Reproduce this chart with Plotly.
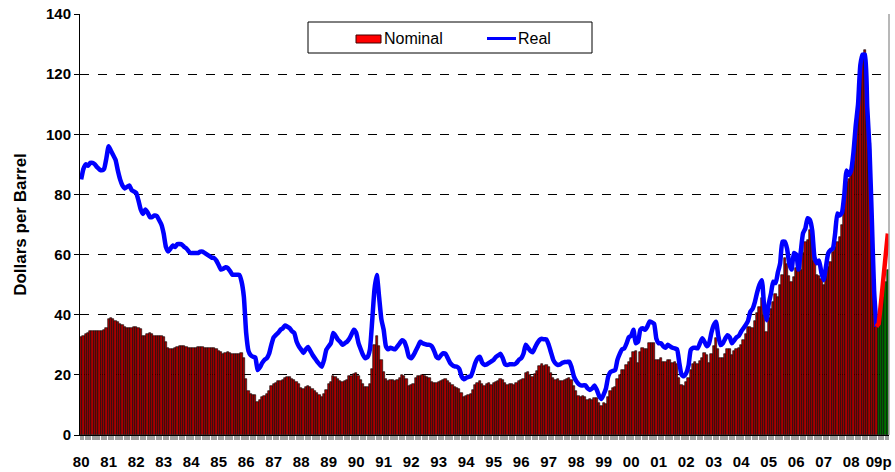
import plotly.graph_objects as go

# ---------------- data (monthly, $/barrel) ----------------
nominal_1980s = [
    32.5, 33, 33.5, 34, 34.5, 34.5, 34.5, 34.5, 34.5, 34.5, 35, 35.5,
    38.5, 39, 38.5, 38, 37.5, 37, 36.5, 36, 35.5, 35.5, 35.5, 36,
    35.8, 35.5, 35.2, 33, 33, 33.5, 34, 33.5, 33, 33, 33, 33,
    32.5, 31, 29, 28.5, 28.5, 29, 29.2, 29.5, 29.5, 29.5, 29.3, 29,
    29, 29, 29, 29.2, 29.2, 29.2, 29, 28.8, 28.8, 28.8, 28.8, 28.5,
    28, 27.5, 27, 27.3, 27.5, 27.3, 27, 26.8, 26.8, 27, 27.3, 25.5,
    18.5, 14.5, 13.5, 13.3, 13.2, 11.1, 11.5, 12.5, 13, 13.5, 14.5, 16.2,
    17, 17.3, 17.8, 18, 18.3, 19, 19.4, 19.2, 18.5, 18.3, 17.5, 16.8,
    15.5, 15.2, 15.8, 16.2, 16, 15.3, 14.5, 14, 13.2, 12.7, 13.5, 15,
    16.8, 17.5, 19.7, 19.3, 18.5, 18, 17.7, 17.8, 18.3, 19.5, 19.5, 20.4,
]
nominal_1990s = [
    20.5, 19.5, 18.3, 16.8, 15.8, 15.8, 17, 22, 30, 33, 29.5, 25,
    21, 18.5, 17.8, 18.3, 18.3, 18, 18.3, 18.9, 19.8, 19.5, 18.5, 16.3,
    16.5, 16.8, 18.9, 19.5, 19.7, 19.8, 19.6, 19.2, 18.9, 17.5, 17.2, 17.2,
    17.5, 18, 18.3, 18.5, 17.8, 17.2, 16.5, 15.8, 15.5, 15.3, 14, 12.7,
    13, 13.3, 13.5, 14.8, 16.5, 17.3, 17.8, 17, 16.3, 16.8, 17.2, 16.5,
    17.2, 17.6, 17.8, 18.5, 18.3, 17.3, 16.5, 16.8, 16.8, 16.5, 17.2, 18,
    18.3, 18.5, 20.5, 21.1, 19.8, 19.3, 20.3, 21.2, 23, 23.5, 23, 23.2,
    22.5, 20.5, 18.8, 18.2, 18.5, 17.8, 18, 18.3, 18.5, 19, 18.2, 16.3,
    14.5, 13, 12.8, 13, 12.8, 11.8, 11.9, 11.5, 12.3, 12.3, 10.8, 9.5,
    10.5, 10.3, 12.5, 14.7, 15.5, 16, 18.5, 19.8, 21.5, 21.5, 23.3, 24.3,
]
nominal_2000s = [
    25.5, 27.7, 27.8, 24, 27.5, 29, 28.5, 28.5, 30.5, 30.5, 30.5, 25,
    25, 25.5, 24.3, 24.3, 25, 25, 24, 24.3, 23.5, 18.8, 16.5, 16.3,
    17.5, 19, 21.6, 23.5, 24.4, 23.5, 24.5, 25.5, 27.2, 26.5, 24, 27,
    29.5, 32.2, 28.5, 25.5, 25.5, 27, 28.5, 28.5, 26.5, 28, 28.5, 29,
    30, 31.5, 33.5, 35.9, 36, 35.5, 38, 40.5, 42.5, 45.4, 40, 34.4,
    39, 42, 44.2, 47, 46, 50, 53.2, 58.8, 57, 53, 51, 52.5,
    55.4, 54.5, 55, 60.4, 64.3, 65, 68.2, 67, 58, 53.2, 53, 52,
    49.9, 53, 56, 57.6, 60.9, 62.5, 64.3, 66, 70, 75, 84, 85,
    87, 91, 100, 108, 120, 126, 128, 112, 97, 72, 50, 37,
]
nominal_2009p = [37, 41, 46, 51, 55]

real_1980s = [
    85, 88.5, 90, 89.5, 90.5, 90.5, 90, 89, 88.3, 88, 88.5, 92,
    96, 94.5, 93, 91.5, 88, 85, 83, 82, 82.5, 83, 81.5, 81,
    80.5, 78, 75, 73.5, 75, 74, 72.5, 72.5, 73, 72.8, 71.5, 70,
    67, 62.5, 61, 62, 63, 62.5, 63.5, 63.5, 63.3, 62.5, 62, 61,
    60.5, 60.5, 60.5, 60.5, 61, 61, 60.5, 60, 59.5, 59, 58.8, 58,
    56.5, 55, 55.3, 55.8, 55.5, 54.5, 53.3, 53.3, 53.3, 53.3, 51, 46,
    34, 28, 26.5, 26, 25.8, 21.6, 22.5, 24, 25, 25.5, 27, 30,
    32.5, 33.3, 34, 35, 35.5, 36.4, 36, 35.5, 34.5, 33.9, 31.1, 29.5,
    28.4, 27.3, 28.5, 29.3, 28, 26.6, 25.5, 24.4, 23.5, 22.7, 25, 28.4,
    29.5, 30.6, 33.9, 33, 31.7, 31, 30, 30.5, 31, 32, 33.5, 35,
]
real_1990s = [
    34, 30.6, 28.5, 26.6, 25.5, 26, 28.5, 38, 48.5, 53.2, 46, 38.5,
    35, 29.5, 28.5, 29, 28.7, 28.5, 29.5, 30.5, 31.5, 31, 29, 26,
    25.5, 26.5, 28, 29.5, 31, 30.5, 30.2, 30, 30, 29.5, 28, 26,
    25.5, 26.5, 27.2, 27, 25.5, 24, 23.2, 22.8, 22.7, 22, 19.5, 18.5,
    19, 19.3, 19.5, 21.5, 24, 25.5, 26, 24, 23.3, 23.5, 24, 24.5,
    25, 26, 26.5, 27, 25.5, 23.5, 23.3, 23.5, 23.5, 23.5, 24, 25,
    25.5, 27, 30, 29, 28, 27.5, 29, 30.5, 31.6, 32, 31.8, 31.8,
    30, 27.5, 25, 23.8, 23.3, 23.5, 24, 24.3, 24.3, 24.4, 22.5, 19.5,
    18, 17, 16.5, 16.5, 16.5, 15.5, 15, 15.5, 16.5, 15, 13, 12,
    13.5, 15.5, 19.5, 21, 21.3, 21.6, 25, 27, 28.5, 28.8, 30.5, 32.5,
]
real_2000s = [
    33, 35, 30.5, 31, 35, 35.5, 35, 36, 37.7, 37.5, 37, 32,
    30.5, 30.5, 29.5, 29, 30, 29.5, 29, 28.8, 28.5, 24, 20, 19.5,
    20.5, 23, 28.3, 29, 29, 28.8, 30.5, 32.2, 31, 29.5, 30.5, 34,
    36.5, 37.7, 33, 29.9, 30.5, 32, 33.2, 32.5, 30.5, 31.5, 32.5, 33,
    34.4, 35.5, 36.6, 38, 41, 42, 44.3, 47.5, 50, 51.5, 43, 38.2,
    43.5, 47, 51, 50.5, 54, 57.1, 64.3, 64.3, 62, 57, 55, 60.5,
    60, 55, 61, 67.1, 68.7, 72.1, 71.5, 68, 59, 57.1, 58, 54,
    51.5, 56, 60.5, 61.5, 62, 67, 73.7, 73, 74, 80, 88, 86.5,
    88, 94, 103, 110, 123, 126.5, 126.5, 109, 95, 72, 48, 36,
]
real_2009p = [36, 37, 44, 51, 59, 67]   # starts at Dec 2008

year_labels = ["80", "81", "82", "83", "84", "85", "86", "87", "88", "89",
               "90", "91", "92", "93", "94", "95", "96", "97", "98", "99",
               "00", "01", "02", "03", "04", "05", "06", "07", "08", "09p"]

# ---------------- build ----------------
nominal = nominal_1980s + nominal_1990s + nominal_2000s
real = real_1980s + real_1990s + real_2000s
n_hist = len(nominal)
x_hist = list(range(n_hist))
x_proj = list(range(n_hist, n_hist + len(nominal_2009p)))
x_real_proj = list(range(n_hist - 1, n_hist - 1 + len(real_2009p)))
tickvals = [12 * k for k in range(len(year_labels))]

FONT = "Arial, 'Liberation Sans', sans-serif"
NOM_FILL = "#A80000"

fig = go.Figure()
fig.add_trace(go.Bar(
    x=x_hist, y=nominal, name="Nominal", width=1, showlegend=False,
    marker=dict(color=NOM_FILL, line=dict(color="#000000", width=0.6)),
))
fig.add_trace(go.Bar(
    x=x_proj, y=nominal_2009p, name="Nominal (proj.)", width=1, showlegend=False,
    marker=dict(color="#007000", line=dict(color="#000000", width=0.6)),
))
fig.add_trace(go.Scatter(
    x=x_hist, y=real, name="Real", mode="lines", showlegend=False,
    line=dict(color="#0000FF", width=4.5, shape="spline", smoothing=0.5),
))
fig.add_trace(go.Scatter(
    x=x_real_proj, y=real_2009p, name="Real (proj.)", mode="lines", showlegend=False,
    line=dict(color="#FF0000", width=4.5),
))

# legend box drawn in paper coordinates (plot area: 809 x 421 px)
def px(x):
    return (x - 80) / 809.0

def py(y):
    return (435 - y) / 421.0

shapes = [
    dict(type="line", xref="paper", yref="paper", x0=1, x1=1, y0=0, y1=1,
         line=dict(color="#A0A0A0", width=1.5)),
    dict(type="rect", xref="paper", yref="paper", x0=px(308), x1=px(592),
         y0=py(53), y1=py(22), fillcolor="white", line=dict(color="black", width=1)),
    dict(type="rect", xref="paper", yref="paper", x0=px(356), x1=px(381),
         y0=py(43), y1=py(35), fillcolor="#FF0000", line=dict(color="#400000", width=1)),
    dict(type="line", xref="paper", yref="paper", x0=px(487), x1=px(516),
         y0=py(38.5), y1=py(38.5), line=dict(color="#0000FF", width=3)),
]
annotations = [
    dict(text="Nominal", xref="paper", yref="paper", x=px(382), y=py(39),
         xanchor="left", yanchor="middle", showarrow=False,
         font=dict(size=16, family=FONT, color="black")),
    dict(text="Real", xref="paper", yref="paper", x=px(516), y=py(39),
         xanchor="left", yanchor="middle", showarrow=False,
         font=dict(size=16, family=FONT, color="black")),
]

fig.update_layout(
    width=895, height=472,
    margin=dict(l=80, r=6, t=14, b=37, autoexpand=False),
    paper_bgcolor="white", plot_bgcolor="white",
    bargap=0,
    font=dict(family=FONT, color="black"),
    showlegend=False,
    xaxis=dict(
        range=[-0.5, n_hist + len(nominal_2009p) - 0.5],
        tickmode="array", tickvals=tickvals, ticktext=year_labels,
        tickfont=dict(size=15, family=FONT, weight="bold"),
        ticks="", ticklabelstandoff=13, automargin=False,
        showline=True, linecolor="black", linewidth=1,
        showgrid=False, zeroline=False,
        minor=dict(ticks="outside", tickmode="linear", tick0=0, dtick=1,
                   ticklen=4, tickwidth=1.5, tickcolor="#A0A0A0"),
    ),
    yaxis=dict(
        range=[0, 140], dtick=20, automargin=False,
        tickfont=dict(size=15, family=FONT, weight="bold"),
        ticks="outside", ticklen=5, tickcolor="black",
        showline=True, linecolor="black", linewidth=1,
        showgrid=True, gridcolor="black", griddash="dash", gridwidth=1,
        zeroline=False,
        title=dict(text="Dollars per Barrel",
                   font=dict(size=17, family=FONT, weight="bold")),
    ),
    shapes=shapes,
    annotations=annotations,
)

fig.write_html("out.html", config={"displayModeBar": False},
               post_script="document.body.style.margin='0px';")
